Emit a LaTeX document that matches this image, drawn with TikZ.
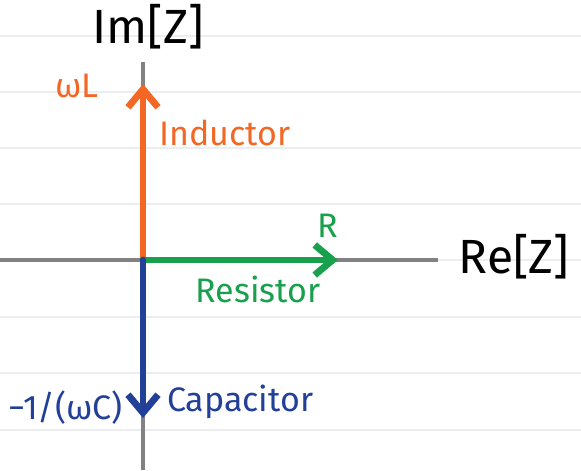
\documentclass[tikz,border=0pt]{standalone}
\usepackage{fontspec}
\setmainfont{Fira Sans}
\usetikzlibrary{arrows.meta, positioning}
\definecolor{indorange}{RGB}{243,102,35}
\definecolor{resgreen}{RGB}{24,160,76}
\definecolor{capblue}{RGB}{34,64,152}
\definecolor{axisgray}{RGB}{130,130,132}
\definecolor{papergray}{RGB}{236,237,238}

\begin{document}
\begin{tikzpicture}[x=0.5pt, y=-0.5pt,
  phasor/.style={line width=3.4pt, line cap=round,
    -{Straight Barb[length=9pt, width=15pt]}},
  axisline/.style={axisgray, line width=1.8pt},
  bigtext/.style={font=\fontsize{24}{26}\selectfont},
  smalltext/.style={font=\fontsize{17}{19}\selectfont}]

  \useasboundingbox (0,0) rectangle (581,470);
  \fill[white] (0,0) rectangle (581,470);

  % Ruled paper
  \foreach \y in {36,92,148,204,260,317,373,430}{
    \draw[papergray, line width=1pt] (0,\y) -- (581,\y);
  }

  % Axes
  \coordinate (O) at (143,260);
  \coordinate (imtop) at (143,62);
  \coordinate (imbot) at (143,470);
  \coordinate (releft) at (0,260);
  \coordinate (reright) at (438,260);
  \draw[axisline] (imbot) -- (imtop);
  \draw[axisline] (releft) -- (reright);
  \node[bigtext] (imlabel) at (148,27) {Im[Z]};
  \node[bigtext] (relabel) at (514,257) {Re[Z]};

  % Inductor
  \coordinate (Ltip) at (143,84);
  \draw[phasor, indorange] (O) -- (Ltip);
  \node[smalltext, text=indorange] (wL) at (77,86) {ωL};
  \node[smalltext, text=indorange, anchor=west] (inductor) at (152,133) {Inductor};

  % Resistor
  \coordinate (Rtip) at (338,260);
  \draw[phasor, resgreen] (O) -- (Rtip);
  \node[smalltext, text=resgreen] (R) at (328,226) {R};
  \node[smalltext, text=resgreen] (resistor) at (258,289) {Resistor};

  % Capacitor
  \coordinate (Ctip) at (143,418);
  \draw[phasor, capblue] (O) -- (Ctip);
  \node[smalltext, text=capblue, anchor=east] (wC) at (130,408) {−1/(ωC)};
  \node[smalltext, text=capblue, anchor=west] (capacitor) at (160,402) {Capacitor};

\end{tikzpicture}
\end{document}
